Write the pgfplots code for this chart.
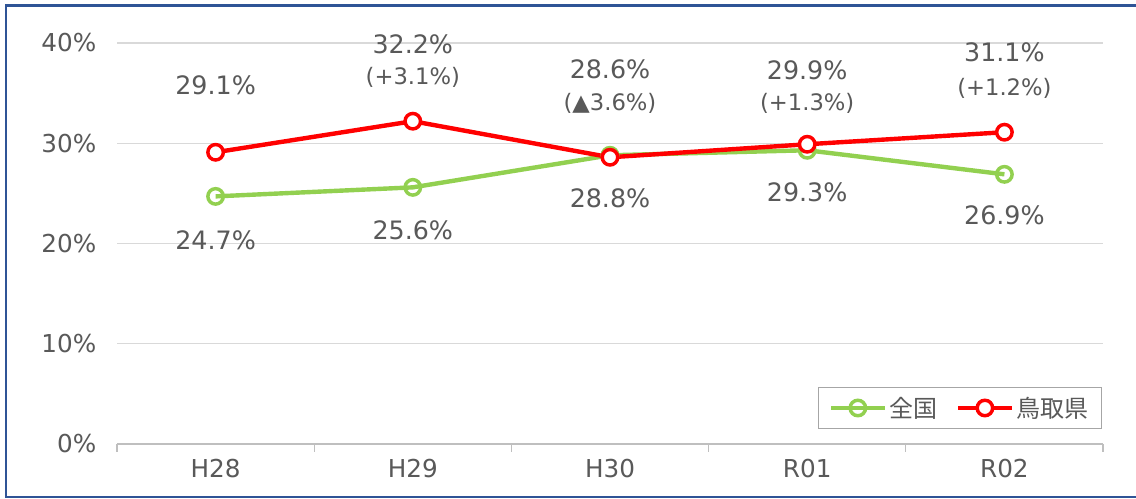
\documentclass[border=0pt]{standalone}
\usepackage{pgfplots}
\pgfplotsset{compat=1.18}
\usepackage{fontspec}
\setmainfont{DejaVu Sans}
\newfontfamily\jp{Noto Sans CJK JP}
\definecolor{cgreen}{RGB}{146,208,80}
\definecolor{cred}{RGB}{255,0,0}
\definecolor{ctext}{RGB}{89,89,89}
\definecolor{cgrid}{RGB}{217,217,217}
\definecolor{caxis}{RGB}{191,191,191}
\definecolor{cframe}{RGB}{47,84,150}
\begin{document}
\begin{tikzpicture}
\useasboundingbox (0,0) rectangle (852pt,374.25pt);
\fill[white] (0,0) rectangle (852pt,374.25pt);
\draw[cframe, line width=1.8pt] (860pt,370.1pt) -- (4.5pt,370.1pt) -- (4.5pt,1.5pt) -- (860pt,1.5pt);
\begin{axis}[
  at={(87.75pt,41.25pt)}, anchor=south west,
  scale only axis, width=739.5pt, height=300.75pt,
  xmin=-0.5, xmax=4.5, ymin=0, ymax=40,
  clip=false,
  font=\fontsize{18.5}{22}\selectfont\color{ctext},
  /pgf/number format/assume math mode=true,
  xtick={0,1,2,3,4},
  xticklabels={H28,H29,H30,R01,R02},
  minor xtick={-0.5,0.5,1.5,2.5,3.5,4.5},
  major tick length=0pt,
  minor tick length=6pt,
  tick align=outside,
  xtick style={draw=none},
  minor x tick style={draw=caxis, line width=1pt},
  ytick={0,10,20,30,40},
  yticklabel={\pgfmathprintnumber{\tick}\%},
  ytick style={draw=none},
  ymajorgrids,
  grid style={cgrid, line width=0.8pt},
  axis x line*=bottom,
  axis y line*=left,
  y axis line style={draw=none},
  x axis line style={draw=caxis, line width=1.2pt, -},
  yticklabel style={xshift=-12pt},
  xticklabel style={yshift=-8pt},
  legend columns=2,
  legend style={at={(1,0)}, anchor=south east, yshift=11.25pt, xshift=-0.5pt,
    draw={rgb,255:red,166;green,166;blue,166}, line width=0.8pt,
    font=\jp\fontsize{18}{21}\selectfont\color{ctext},
    inner xsep=8pt, inner ysep=5pt,
    /tikz/every even column/.append style={column sep=12pt}},
  legend image code/.code={
    \draw[#1, mark=none] (0pt,0pt) -- (40pt,0pt);
    \draw[#1, only marks] plot coordinates {(20pt,0pt)};
  },
]
\addplot[cgreen, line width=3.3pt, mark=o, mark size=5.8pt,
  mark options={fill=white, line width=2.6pt}]
  coordinates {(0,24.7) (1,25.6) (2,28.8) (3,29.3) (4,26.9)};
\addlegendentry{全国}
\addplot[cred, line width=3.3pt, mark=*, mark size=5.8pt,
  mark options={fill=white, draw=cred, line width=2.6pt}]
  coordinates {(0,29.1) (1,32.2) (2,28.6) (3,29.9) (4,31.1)};
\addlegendentry{鳥取県}

\begin{scope}[every node/.style={font=\fontsize{19}{22}\selectfont, text=ctext}]
\node at (axis cs:0,35.8) {29.1\%};
\node at (axis cs:1,39.9) {32.2\%};
\node at (axis cs:2,37.4) {28.6\%};
\node at (axis cs:3,37.3) {29.9\%};
\node at (axis cs:4,39.1) {31.1\%};
\node at (axis cs:0,20.35) {24.7\%};
\node at (axis cs:1,21.35) {25.6\%};
\node at (axis cs:2,24.5) {28.8\%};
\node at (axis cs:3,25.1) {29.3\%};
\node at (axis cs:4,22.8) {26.9\%};
\end{scope}
\begin{scope}[every node/.style={font=\fontsize{17}{20}\selectfont, text=ctext}]
\node at (axis cs:1,36.6) {(+3.1\%)};
\node at (axis cs:2,34.0) {(▲3.6\%)};
\node at (axis cs:3,34.0) {(+1.3\%)};
\node at (axis cs:4,35.5) {(+1.2\%)};
\end{scope}
\end{axis}
\end{tikzpicture}
\end{document}
